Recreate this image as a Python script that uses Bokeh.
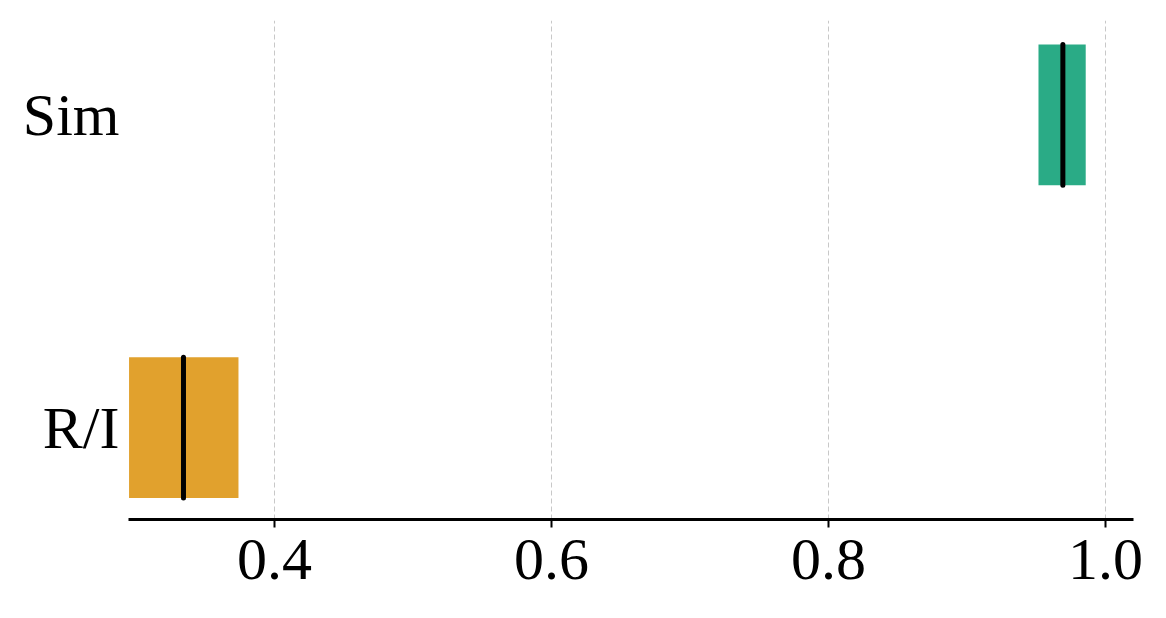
from bokeh.plotting import figure
from bokeh.models import Range1d, FixedTicker, ColumnDataSource
from bokeh.embed import file_html
from bokeh.resources import INLINE

categories = ["R/I", "Sim"]
positions = [0, 1]
q1 = [0.295, 0.9516]
median = [0.3343, 0.9692]
q3 = [0.374, 0.9857]
colors = ["#e1a12d", "#2aab86"]
x_ticks = [0.4, 0.6, 0.8, 1.0]
x_tick_labels = ["0.4", "0.6", "0.8", "1.0"]

box_height = 0.45

src = ColumnDataSource(dict(
    y=positions, left=q1, right=q3, med=median, color=colors,
    y0=[p - box_height / 2 for p in positions],
    y1=[p + box_height / 2 for p in positions],
))

p = figure(width=1158, height=610, output_backend="svg", toolbar_location=None,
           x_range=Range1d(0.2946, 1.0202), y_range=Range1d(-0.294, 1.302),
           min_border_left=128, min_border_right=25, min_border_top=20, min_border_bottom=91)
p.outline_line_color = None
p.background_fill_color = "white"
p.border_fill_color = "white"

p.hbar(y="y", left="left", right="right", height=box_height, fill_color="color",
       line_color=None, source=src)
p.segment(x0="med", x1="med", y0="y0", y1="y1", line_color="black", line_width=5,
          line_cap="round", source=src)

font = "Liberation Serif"
p.xaxis.ticker = FixedTicker(ticks=x_ticks)
p.xaxis.major_label_overrides = {t: l for t, l in zip(x_ticks, x_tick_labels)}
p.xaxis.major_label_text_font = font
p.xaxis.major_label_text_font_size = "60px"
p.xaxis.major_label_text_color = "black"
p.xaxis.axis_line_width = 3
p.xaxis.axis_line_color = "black"
p.xaxis.major_tick_line_width = 2
p.xaxis.major_tick_line_color = "black"
p.xaxis.major_tick_out = 8
p.xaxis.major_tick_in = 0
p.xaxis.minor_tick_line_color = None
p.xaxis.major_label_standoff = 12

p.yaxis.ticker = FixedTicker(ticks=positions)
p.yaxis.major_label_overrides = {pos: c for pos, c in zip(positions, categories)}
p.yaxis.major_label_text_font = font
p.yaxis.major_label_text_font_size = "60px"
p.yaxis.major_label_text_color = "black"
p.yaxis.axis_line_color = None
p.yaxis.major_tick_line_color = None
p.yaxis.minor_tick_line_color = None
p.yaxis.major_label_standoff = 3

p.xgrid.grid_line_color = "#c8c8c8"
p.xgrid.grid_line_dash = "5 3"
p.xgrid.grid_line_width = 1
p.ygrid.grid_line_color = None

open("out.html", "w").write(file_html(p, INLINE))
